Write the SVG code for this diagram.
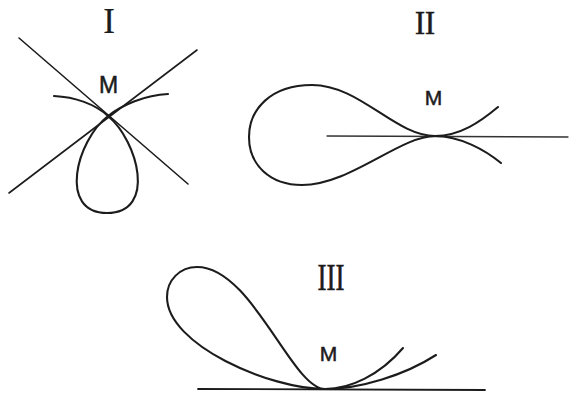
<svg xmlns="http://www.w3.org/2000/svg" width="569" height="394" viewBox="0 0 569 394">
<style>
.bg{fill:#ffffff}
.crv{fill:none;stroke:#1c1c1c;stroke-width:2.1;stroke-linecap:round;stroke-linejoin:round}
.ln{fill:none;stroke:#1c1c1c;stroke-width:1.6;stroke-linecap:round}
.num{font-family:"Liberation Serif","DejaVu Serif",serif;fill:#1c1c1c;stroke:#1c1c1c;stroke-width:0.6;text-anchor:middle}
.m{font-family:"Liberation Sans","DejaVu Sans",sans-serif;fill:#1c1c1c;stroke:#1c1c1c;stroke-width:0.5;text-anchor:middle}
</style>
<rect class="bg" x="0" y="0" width="569" height="394"/>
<g id="figure-I">
  <text class="num" x="109" y="33" font-size="35" style="stroke-width:0.2">I</text>
  <line class="ln" x1="19" y1="38" x2="188" y2="184"/>
  <line class="ln" x1="197" y1="50" x2="9" y2="193"/>
  <path class="crv" d="M54,96 C75,97 95,104 108,116 C138,141 157,213 107,213 C58,213 76,141 108,116 C122,105 145,95 168,94"/>
  <text class="m" x="108.5" y="93" font-size="23">M</text>
</g>
<g id="figure-II">
  <text class="num" x="425" y="34" font-size="33" textLength="20" lengthAdjust="spacingAndGlyphs">II</text>
  <line class="ln" x1="327" y1="136" x2="568" y2="137" style="stroke-width:1.3;stroke:#333"/>
  <path class="crv" d="M498,107 C480,122 460,136 435,136 C395,136 360,85 312,85 C270,85 249,110 249,137 C249,165 270,185 302,185 C350,185 400,136 435,136 C460,136 485,150 501,163"/>
  <text class="m" x="433.5" y="105" font-size="21">M</text>
</g>
<g id="figure-III">
  <text class="num" x="331" y="290" font-size="38" textLength="27" lengthAdjust="spacingAndGlyphs">III</text>
  <line class="ln" x1="198" y1="389" x2="485" y2="390" style="stroke-width:1.8"/>
  <path class="crv" d="M403,348 C380,375 350,389 325,389 C292,389 252,267 197,267 C180,267 167,280 167,297 C167,345 270,389 325,389 C360,389 405,375 436,355"/>
  <text class="m" x="328.5" y="361" font-size="21">M</text>
</g>
</svg>
